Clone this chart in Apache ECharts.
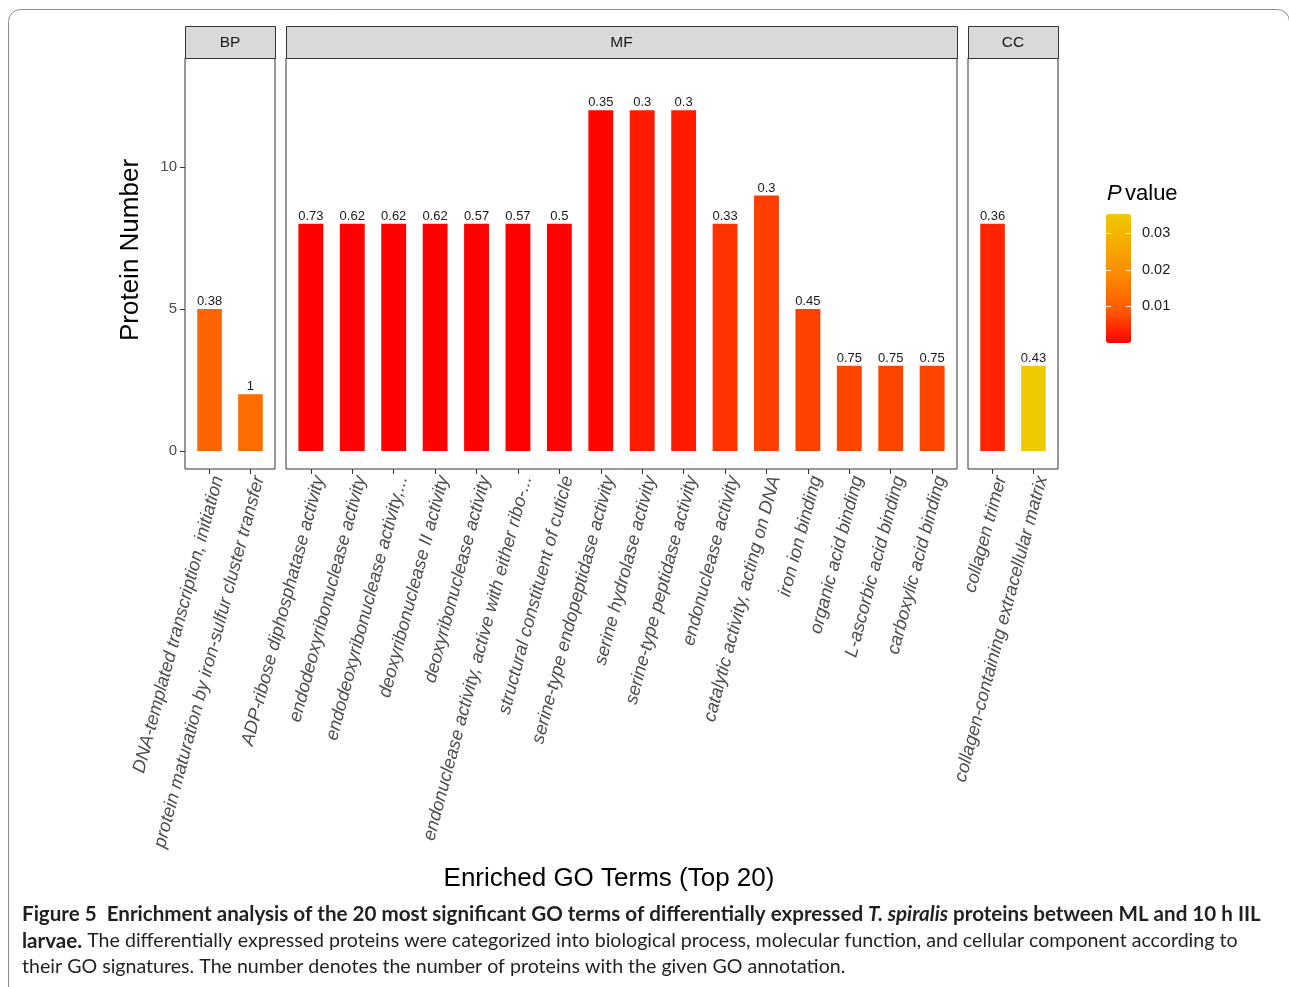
<!DOCTYPE html>
<html>
<head>
<meta charset="utf-8">
<script src="https://cdn.jsdelivr.net/npm/echarts@6/dist/echarts.min.js"></script>
<style>
  html, body { margin: 0; padding: 0; background: #ffffff; }
  #chart { width: 1289px; height: 987px; }
</style>
</head>
<body>
<div id="chart"></div>
<script>
// ---- Enriched GO terms: protein counts, P values (bar fill) and the figure printed above each bar ----
const bpTerms = [
  'DNA-templated transcription, initiation',
  'protein maturation by iron-sulfur cluster transfer'
];
const bpCounts = [5, 2];
const bpPValues = [0.0110, 0.0125];
const bpLabels = ['0.38', '1'];

const mfTerms = [
  'ADP-ribose diphosphatase activity',
  'endodeoxyribonuclease activity',
  'endodeoxyribonuclease activity,...',
  'deoxyribonuclease II activity',
  'deoxyribonuclease activity',
  'endonuclease activity, active with either ribo-...',
  'structural constituent of cuticle',
  'serine-type endopeptidase activity',
  'serine hydrolase activity',
  'serine-type peptidase activity',
  'endonuclease activity',
  'catalytic activity, acting on DNA',
  'iron ion binding',
  'organic acid binding',
  'L-ascorbic acid binding',
  'carboxylic acid binding'
];
const mfCounts = [8, 8, 8, 8, 8, 8, 8, 12, 12, 12, 8, 9, 5, 3, 3, 3];
const mfPValues = [0.0001, 0.0001, 0.0001, 0.0001, 0.0001, 0.0001, 0.0001,
                   0.0005, 0.0026, 0.0026, 0.0050, 0.0060, 0.0064, 0.0068, 0.0068, 0.0068];
const mfLabels = ['0.73', '0.62', '0.62', '0.62', '0.57', '0.57', '0.5',
                  '0.35', '0.3', '0.3', '0.33', '0.3', '0.45', '0.75', '0.75', '0.75'];

const ccTerms = ['collagen trimer', 'collagen-containing extracellular matrix'];
const ccCounts = [8, 3];
const ccPValues = [0.0035, 0.0353];
const ccLabels = ['0.36', '0.43'];

const facetNames = ['BP', 'MF', 'CC'];
const yTicks = [0, 5, 10];
const pTicks = [0.01, 0.02, 0.03];
const pRange = [0, 0.0353];

// ---- layout ----
const FONT = '"Liberation Sans", Arial, Helvetica, sans-serif';
const CAPTION_FONT = 'Lato, "Open Sans", sans-serif';
const plotTop = 58;
const plotHeight = 411;
const stripTop = 26;
const stripHeight = 32;
const yMin = -0.634, yMax = 13.84;

const panels = [
  { name: facetNames[0], terms: bpTerms, counts: bpCounts, p: bpPValues, labels: bpLabels, left: 185, width: 90 },
  { name: facetNames[1], terms: mfTerms, counts: mfCounts, p: mfPValues, labels: mfLabels, left: 286, width: 671 },
  { name: facetNames[2], terms: ccTerms, counts: ccCounts, p: ccPValues, labels: ccLabels, left: 968, width: 90 }
];

const legendBox = { left: 1106, top: 214, width: 25, height: 129 };

// Lab-like ramp from red to gold
const pColors = ['#FF0000', '#FE5A00', '#FC8500', '#F7A800', '#EEC900'];

const grids = panels.map(p => ({
  left: p.left, top: plotTop, width: p.width, height: plotHeight,
  show: true, borderColor: '#333333', borderWidth: 1, backgroundColor: '#ffffff'
}));
grids.push({ left: legendBox.left, top: legendBox.top, width: legendBox.width, height: legendBox.height, show: false });

const xAxes = panels.map((p, i) => {
  const idx = p.terms.map((_, k) => k);
  return {
    type: 'value', gridIndex: i, position: 'bottom', min: -0.6, max: p.terms.length - 0.4,
    splitLine: { show: false },
    axisLine: { show: false, onZero: false },
    axisTick: { show: true, customValues: idx, length: 5, lineStyle: { color: '#333333', width: 1 } },
    axisLabel: {
      show: true, customValues: idx, rotate: 75, margin: 5,
      align: 'right', verticalAlign: 'top',
      formatter: v => p.terms[Math.round(v)],
      color: '#4D4D4D', fontSize: 18.3, fontStyle: 'italic', fontFamily: FONT
    }
  };
});
xAxes.push({ type: 'value', gridIndex: 3, min: 0, max: 1, show: false, axisLine: { onZero: false } });

const yAxes = panels.map((p, i) => ({
  type: 'value', gridIndex: i, position: 'left', min: yMin, max: yMax,
  splitLine: { show: false },
  axisLine: { show: false, onZero: false },
  axisTick: { show: i === 0, customValues: yTicks, length: 5, lineStyle: { color: '#333333', width: 1 } },
  axisLabel: {
    show: i === 0, customValues: yTicks, margin: 8,
    color: '#4D4D4D', fontSize: 15, fontFamily: FONT
  }
}));
// colour-bar scale: labels on the right, short white ticks on both edges
yAxes.push({
  type: 'value', gridIndex: 3, position: 'right', min: pRange[0], max: pRange[1], z: 10,
  splitLine: { show: false }, axisLine: { show: false, onZero: false },
  axisTick: { show: true, inside: true, customValues: pTicks, length: 5, lineStyle: { color: '#ffffff', width: 1, opacity: 0.8 } },
  axisLabel: {
    show: true, customValues: pTicks, margin: 11, formatter: v => v.toFixed(2),
    color: '#1A1A1A', fontSize: 14.5, fontFamily: FONT
  }
});
yAxes.push({
  type: 'value', gridIndex: 3, position: 'left', min: pRange[0], max: pRange[1], z: 10,
  splitLine: { show: false }, axisLine: { show: false, onZero: false },
  axisTick: { show: true, inside: true, customValues: pTicks, length: 5, lineStyle: { color: '#ffffff', width: 1, opacity: 0.8 } },
  axisLabel: { show: false }
});

const series = panels.map((p, i) => {
  const unit = p.width / (p.terms.length + 0.2);
  return {
    type: 'bar', name: p.name, xAxisIndex: i, yAxisIndex: i,
    barWidth: unit * 0.6,
    encode: { x: 0, y: 1 },
    data: p.terms.map((_, k) => [k, p.counts[k], p.p[k], p.labels[k]]),
    label: {
      show: true, position: 'top', distance: 1,
      formatter: prm => prm.value[3],
      color: '#1A1A1A', fontSize: 13, fontFamily: FONT
    },
    emphasis: { disabled: true }
  };
});

// facet strips
const strips = [];
panels.forEach(p => {
  strips.push({
    type: 'rect', z: 5,
    shape: { x: p.left + 0.5, y: stripTop + 0.5, width: p.width, height: stripHeight },
    style: { fill: '#D9D9D9', stroke: '#333333', lineWidth: 1 }
  });
  strips.push({
    type: 'text', z: 6, x: p.left + p.width / 2, y: stripTop + stripHeight / 2 + 1,
    style: { text: p.name, fill: '#1A1A1A', font: '15.5px ' + FONT, align: 'center', verticalAlign: 'middle' }
  });
});

const captionRich = {
  b: { fontFamily: CAPTION_FONT, fontWeight: 'bold', fontSize: 20.6, fill: '#231F20' },
  bi: { fontFamily: CAPTION_FONT, fontWeight: 'bold', fontStyle: 'italic', fontSize: 20.6, fill: '#231F20' },
  r: { fontFamily: CAPTION_FONT, fontSize: 19.6, fill: '#231F20' }
};

const graphics = strips.concat([
  {
    type: 'rect', z: 0,
    shape: { x: 8.5, y: 9.5, width: 1281, height: 1000, r: 12 },
    style: { fill: 'none', stroke: '#8C8C8C', lineWidth: 1 }
  },
  {
    type: 'text', x: 131, y: 250, rotation: Math.PI / 2,
    style: { text: 'Protein Number', fill: '#000000', font: '26px ' + FONT, align: 'center', verticalAlign: 'middle' }
  },
  {
    type: 'text', x: 609, y: 879,
    style: { text: 'Enriched GO Terms (Top 20)', fill: '#000000', font: '26px ' + FONT, align: 'center', verticalAlign: 'middle' }
  },
  {
    type: 'text', x: 1107, y: 194,
    style: {
      text: '{i|P} {n|value}', align: 'left', verticalAlign: 'middle',
      rich: {
        i: { fontFamily: FONT, fontStyle: 'italic', fontSize: 22, fill: '#000000' },
        n: { fontFamily: FONT, fontSize: 22, fill: '#000000' }
      }
    }
  },
  {
    type: 'text', x: 22, y: 914,
    style: {
      text: '{b|Figure 5  Enrichment analysis of the 20 most significant GO terms of differentially expressed }{bi|T. spiralis}{b| proteins between ML and 10 h IIL}',
      verticalAlign: 'middle', rich: captionRich
    }
  },
  {
    type: 'text', x: 22, y: 941,
    style: {
      text: '{b|larvae.}{r| The differentially expressed proteins were categorized into biological process, molecular function, and cellular component according to}',
      verticalAlign: 'middle', rich: captionRich
    }
  },
  {
    type: 'text', x: 22, y: 967,
    style: {
      text: '{r|their GO signatures. The number denotes the number of proteins with the given GO annotation.}',
      verticalAlign: 'middle', rich: captionRich
    }
  }
]);

const chart = echarts.init(document.getElementById('chart'), null, { renderer: 'canvas' });
chart.setOption({
  animation: false,
  backgroundColor: '#ffffff',
  grid: grids,
  xAxis: xAxes,
  yAxis: yAxes,
  visualMap: {
    type: 'continuous', min: pRange[0], max: pRange[1], dimension: 2, seriesIndex: [0, 1, 2],
    calculable: false, orient: 'vertical', left: legendBox.left, top: legendBox.top,
    itemWidth: legendBox.width, itemHeight: legendBox.height, padding: 0,
    inRange: { color: pColors }, hoverLink: false
  },
  series: series,
  graphic: graphics
});
</script>
</body>
</html>
